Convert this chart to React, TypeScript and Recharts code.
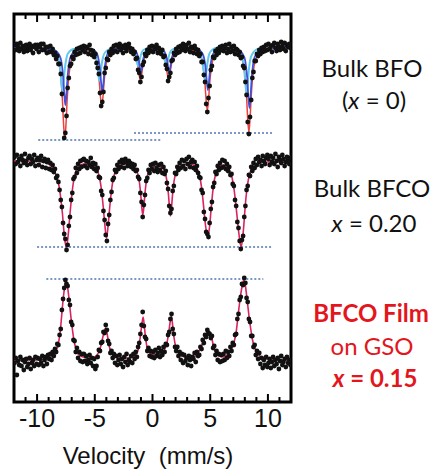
import React from 'react';
import { ComposedChart, XAxis, YAxis, Line, Scatter, ReferenceLine, ReferenceArea } from 'recharts';

// Mössbauer spectra, velocity in mm/s; counts are relative to each spectrum's baseline (a.u.)
const CH_START = -11.95;
const CH_STEP = 0.1;

// Bulk BFO (x = 0), 240 channels
const BFO_COUNTS = [
  2, -3, 3, 0, -4, 4, -2, 1, -5, -1, 2, -4, 0, 3, -3, 1, -6, 0, 2, -2,
  2, -5, 0, 3, -3, 3, -3, 0, -6, 0, -5, 1, -5, -2, -8, -6, -12, -9, -17, -17,
  -27, -47, -63, -91, -86, -69, -41, -31, -19, -17, -10, -12, -5, -8, -2, -7, -1, -6, 0, -3,
  1, -5, 0, -1, -7, 2, -3, -8, -4, -10, -7, -16, -21, -27, -46, -59, -55, -45, -26, -21,
  -12, -13, -5, -8, -2, -6, 1, -4, 2, -5, 0, 3, -3, 1, -6, -1, 2, -4, 0, 3,
  -1, -5, -2, -7, -5, -12, -11, -23, -26, -35, -30, -18, -15, -7, -9, -3, -6, 0, -4, 1,
  -5, 0, -2, 2, -6, -1, -3, -7, -3, -10, -9, -18, -22, -34, -30, -26, -14, -13, -6, -8,
  -2, -6, 0, -5, 1, -3, 3, -1, -4, 2, -2, 4, -5, 0, -1, -6, 1, -2, -7, -3,
  -9, -7, -15, -15, -28, -35, -57, -65, -51, -39, -23, -19, -10, -11, -4, -8, -2, -6, 0, -3,
  1, -4, -1, 2, -6, -2, 3, -5, 0, -4, 1, -7, -2, -3, -8, -5, -11, -10, -19, -21,
  -35, -48, -75, -87, -70, -53, -31, -25, -14, -14, -7, -9, -3, -7, -1, -5, 0, -4, 2, -3,
  3, -2, 1, -5, 2, 4, -1, -4, 3, 0, -3, 5, 1, -2, 4, -4, 2, 0, 3, -1,
];

// Bulk BFCO x = 0.20
const BFCO_COUNTS = [
  5, -2, 7, 0, 3, -4, 6, 2, -1, 8, 1, -3, 4, 6, -2, 3, 0, 7, -4, 2,
  4, -3, 2, 6, -5, 1, 3, -6, 0, 2, -7, -1, -8, -3, -10, -7, -16, -14, -20, -28,
  -38, -45, -61, -72, -77, -88, -83, -64, -55, -38, -31, -17, -15, -6, -11, -2, -7, 1, -5, 2,
  3, -4, 1, -6, 0, -3, 4, -5, -1, -7, -2, -9, -6, -15, -16, -29, -33, -49, -58, -73,
  -79, -62, -53, -38, -30, -18, -16, -8, -10, -3, -7, 0, -5, 2, -1, -6, 3, 0, -4, 1,
  -1, -5, -2, -7, -3, -9, -8, -15, -17, -31, -40, -55, -43, -33, -19, -16, -8, -11, -3, -7,
  -2, -9, -1, -6, -10, -3, -8, -2, -11, -5, -12, -9, -21, -27, -44, -51, -47, -29, -24, -11,
  -12, -5, -8, -1, -6, 2, -4, 1, -7, 3, -2, 5, -5, 0, 2, -6, 0, -8, -4, -11,
  -15, -16, -28, -31, -50, -57, -70, -72, -75, -61, -47, -40, -25, -21, -10, -12, -4, -8, -1, -6,
  2, -5, 1, -7, -2, -9, -5, -13, -12, -22, -24, -38, -44, -60, -66, -79, -87, -78, -74, -55,
  -44, -28, -24, -13, -14, -5, -9, -1, -6, 3, -3, 5, 0, 2, -4, 6, 1, -2, 4, 7,
  3, -3, 6, 0, 4, -2, 8, 1, -5, 5, 2, -1, 7, 3, -4, 0, 5, 2, -2, 4,
];

// BFCO film on GSO x = 0.15 (peaks upward)
const FILM_COUNTS = [
  -3, 2, -15, -1, -5, 3, -6, 0, -10, -2, 1, -7, -4, 2, -9, -3, 0, -6, 3, -4,
  2, -5, 1, -3, 4, -6, 0, 3, -4, 5, 1, 6, 0, 8, 4, 11, 8, 16, 15, 25,
  31, 50, 61, 72, 80, 76, 74, 60, 55, 38, 35, 20, 19, 8, 12, 2, 8, -1, 6, -2,
  6, -1, 4, -4, 0, 5, -3, 2, -6, 1, -9, -6, 3, 10, 9, 17, 18, 28, 27, 35,
  30, 19, 16, 7, 9, 2, 6, -3, 4, -5, 0, 5, -4, 1, -7, 3, -2, 6, -5, 0,
  -2, 4, -3, 6, 1, 8, 3, 13, 17, 26, 35, 48, 34, 23, 21, 9, 12, 4, 9, 3,
  8, 2, 10, 4, 7, 12, 3, 9, 5, 13, 8, 16, 15, 25, 28, 41, 46, 31, 26, 13,
  9, 13, 4, 8, 0, 6, -3, 5, -1, 2, -5, 4, 0, -6, 3, 1, 7, -2, 8, 4,
  5, 13, 11, 20, 17, 25, 23, 30, 27, 26, 22, 24, 12, 14, 5, 9, 0, 6, -2, 5,
  -1, 6, 0, 9, 2, 8, 4, 13, 9, 17, 15, 25, 26, 41, 46, 60, 63, 76, 75, 82,
  77, 62, 58, 41, 38, 24, 24, 13, 15, 5, 9, 1, 7, -4, 2, -8, 0, -5, 3, -7,
  -3, 1, -8, -2, 3, -6, 0, -4, 2, -9, -1, 4, -5, -2, 1, -7, 3, -3, 0, -5,
];

// fitted curves, [velocity, value]
const BFO_FIT: [number, number][] = [
  [-12, -1], [-10, -1], [-9.2, -2], [-8.6, -5], [-8.3, -10], [-8.05, -20], [-7.9, -36], [-7.8, -54], [-7.7, -78], [-7.6, -92],
  [-7.5, -78], [-7.4, -54], [-7.3, -36], [-7.15, -20], [-6.9, -10], [-6.6, -6], [-6.0, -4], [-5.4, -4], [-5.1, -7], [-4.85, -13],
  [-4.7, -24], [-4.6, -36], [-4.5, -51], [-4.4, -60], [-4.3, -51], [-4.2, -36], [-4.1, -24], [-3.95, -13], [-3.7, -7], [-3.4, -4],
  [-2.7, -2], [-2.05, -3], [-1.75, -4], [-1.5, -8], [-1.35, -13], [-1.25, -20], [-1.15, -28], [-1.05, -33], [-0.95, -28], [-0.85, -20],
  [-0.75, -13], [-0.6, -8], [-0.35, -4], [0.15, -3], [0.7, -4], [0.95, -8], [1.1, -13], [1.2, -20], [1.3, -28], [1.4, -33],
  [1.5, -28], [1.6, -20], [1.7, -13], [1.85, -8], [2.1, -4], [2.7, -2], [3.4, -3], [3.75, -4], [4.05, -7], [4.3, -14],
  [4.45, -25], [4.55, -37], [4.65, -54], [4.75, -63], [4.85, -54], [4.95, -37], [5.05, -25], [5.2, -14], [5.45, -7], [5.75, -4],
  [6.5, -3], [7.35, -5], [7.65, -9], [7.9, -19], [8.05, -33], [8.15, -50], [8.25, -72], [8.35, -85], [8.45, -72], [8.55, -50],
  [8.65, -33], [8.8, -19], [9.05, -9], [9.35, -5], [10.0, -2], [12, -1],
];

const BFO_SITE1: [number, number][] = [
  [-12, 0], [-10, -1], [-8.55, -3], [-8.0, -10], [-7.85, -18], [-7.75, -29], [-7.65, -46], [-7.55, -58], [-7.45, -46], [-7.35, -29],
  [-7.25, -18], [-7.1, -10], [-6.55, -3], [-5.35, -2], [-4.8, -7], [-4.65, -14], [-4.55, -22], [-4.45, -36], [-4.35, -45], [-4.25, -36],
  [-4.15, -22], [-4.05, -14], [-3.9, -7], [-3.35, -2], [-2.0, -1], [-1.45, -4], [-1.3, -8], [-1.2, -12], [-1.1, -20], [-1.0, -25],
  [-0.9, -20], [-0.8, -12], [-0.7, -8], [-0.55, -4], [0.0, -2], [1.0, -4], [1.15, -8], [1.25, -12], [1.35, -20], [1.45, -25],
  [1.55, -20], [1.65, -12], [1.75, -8], [1.9, -4], [2.45, -1], [3.8, -2], [4.35, -7], [4.5, -13], [4.6, -21], [4.7, -34],
  [4.8, -43], [4.9, -34], [5.0, -21], [5.1, -13], [5.25, -7], [5.8, -2], [7.4, -3], [7.95, -10], [8.1, -19], [8.2, -30],
  [8.3, -49], [8.4, -61], [8.5, -49], [8.6, -30], [8.7, -19], [8.85, -10], [9.4, -3], [10.5, -1], [12, 0],
];

const BFO_SITE2: [number, number][] = [
  [-12, 0], [-10, -1], [-8.8, -2], [-8.25, -7], [-8.1, -14], [-8.0, -22], [-7.9, -35], [-7.8, -44], [-7.7, -35], [-7.6, -22],
  [-7.5, -14], [-7.35, -7], [-6.8, -2], [-5.6, -2], [-5.05, -6], [-4.9, -11], [-4.8, -17], [-4.7, -27], [-4.6, -34], [-4.5, -27],
  [-4.4, -17], [-4.3, -11], [-4.15, -6], [-3.6, -2], [-2.25, -1], [-1.7, -3], [-1.55, -6], [-1.45, -10], [-1.35, -15], [-1.25, -19],
  [-1.15, -15], [-1.05, -10], [-0.95, -6], [-0.8, -3], [-0.25, -1], [0.2, -1], [0.75, -3], [0.9, -6], [1.0, -10], [1.1, -15],
  [1.2, -19], [1.3, -15], [1.4, -10], [1.5, -6], [1.65, -3], [2.2, -1], [3.55, -1], [4.1, -5], [4.25, -10], [4.35, -17],
  [4.45, -26], [4.55, -33], [4.65, -26], [4.75, -17], [4.85, -10], [5.0, -5], [5.55, -1], [7.15, -2], [7.7, -8], [7.85, -14],
  [7.95, -23], [8.05, -37], [8.15, -46], [8.25, -37], [8.35, -23], [8.45, -14], [8.6, -8], [9.15, -2], [10.5, -1], [12, 0],
];

const BFCO_FIT: [number, number][] = [
  [-12, 1], [-10.5, 1], [-9.5, 0], [-9.0, -2], [-8.7, -5], [-8.5, -9], [-8.3, -15], [-8.1, -24], [-7.95, -36], [-7.8, -52],
  [-7.7, -66], [-7.6, -78], [-7.47, -85], [-7.35, -78], [-7.25, -66], [-7.15, -52], [-7.0, -34], [-6.85, -20], [-6.65, -10], [-6.4, -5],
  [-6.0, -2], [-5.5, -2], [-5.0, -4], [-4.75, -9], [-4.55, -18], [-4.4, -30], [-4.25, -47], [-4.12, -64], [-3.98, -76], [-3.85, -64],
  [-3.72, -47], [-3.57, -30], [-3.42, -18], [-3.2, -9], [-2.9, -4], [-2.4, -2], [-1.8, -3], [-1.5, -6], [-1.3, -11], [-1.15, -19],
  [-1.03, -31], [-0.93, -45], [-0.84, -53], [-0.75, -45], [-0.65, -31], [-0.53, -19], [-0.38, -11], [-0.15, -6], [0.35, -4], [0.9, -6],
  [1.1, -11], [1.25, -19], [1.37, -31], [1.47, -45], [1.56, -54], [1.65, -45], [1.75, -31], [1.87, -19], [2.02, -11], [2.25, -6],
  [2.6, -3], [3.2, -2], [3.7, -4], [3.95, -9], [4.15, -18], [4.3, -30], [4.45, -47], [4.6, -64], [4.79, -75], [4.95, -64],
  [5.08, -47], [5.22, -30], [5.36, -18], [5.55, -9], [5.85, -4], [6.2, -3], [6.5, -5], [6.7, -9], [6.9, -16], [7.05, -26],
  [7.2, -40], [7.35, -57], [7.5, -73], [7.68, -85], [7.82, -75], [7.92, -62], [8.02, -46], [8.15, -30], [8.3, -18], [8.5, -9],
  [8.75, -4], [9.2, -1], [10, 0], [11, 0], [12, -1],
];

const FILM_FIT: [number, number][] = [
  [-12, 0], [-10, 0], [-9.2, 1], [-8.8, 3], [-8.55, 5], [-8.3, 11], [-8.1, 20], [-7.98, 30], [-7.88, 43], [-7.78, 56],
  [-7.68, 67], [-7.57, 76], [-7.47, 79], [-7.36, 73], [-7.25, 63], [-7.15, 52], [-7.04, 40], [-6.92, 29], [-6.81, 20], [-6.6, 10],
  [-6.38, 5], [-6.0, 3], [-5.5, 2], [-5.0, 3], [-4.7, 7], [-4.5, 13], [-4.3, 23], [-4.17, 29], [-4.07, 32], [-3.97, 29],
  [-3.87, 22], [-3.75, 14], [-3.6, 8], [-3.35, 4], [-2.9, 2], [-2.2, 2], [-1.7, 3], [-1.4, 6], [-1.2, 12], [-1.05, 24],
  [-0.93, 35], [-0.81, 43], [-0.7, 33], [-0.6, 22], [-0.48, 13], [-0.3, 8], [0.0, 5], [0.4, 5], [0.8, 7], [1.05, 11],
  [1.25, 17], [1.4, 27], [1.53, 38], [1.64, 44], [1.75, 34], [1.87, 22], [2.0, 14], [2.2, 8], [2.5, 4], [3.0, 3],
  [3.5, 3], [3.9, 6], [4.16, 12], [4.35, 17], [4.5, 22], [4.7, 27], [4.88, 29], [5.02, 26], [5.17, 20], [5.3, 13],
  [5.45, 8], [5.75, 4], [6.2, 3], [6.6, 7], [6.85, 11], [7.05, 17], [7.25, 28], [7.45, 48], [7.6, 62], [7.75, 73],
  [7.9, 80], [8.05, 74], [8.2, 60], [8.35, 45], [8.5, 32], [8.65, 21], [8.8, 14], [9.0, 8], [9.3, 4], [9.7, 2],
  [10.3, 0], [12, 0],
];

// vertical offsets of the stacked spectra
const OFFSET_BFO = 355;
const OFFSET_BFCO = 240;
const OFFSET_FILM = 42;

// dotted guide lines: [from v, to v, level]
const BFO_GUIDES = [[-9.9, 0.7, -93], [-1.6, 10.5, -86]];
const BFCO_GUIDES = [[-10, 10.4, -85]];
const FILM_GUIDES = [[-9.2, 9.6, 81]];

const TICKS = [-12, -11, -10, -9, -8, -7, -6, -5, -4, -3, -2, -1, 0, 1, 2, 3, 4, 5, 6, 7, 8, 9, 10, 11, 12];

const RED_TOP = '#e8433f';
const BLUE = '#4150d6';
const CYAN = '#62c9ef';
const PINK = '#d9245f';
const GUIDE = '#4f77b3';
const AXIS_FONT = '"Liberation Sans", Arial, sans-serif';
const LABEL_FONT = 'Lato, "Open Sans", sans-serif';

const toChannels = (counts: number[], offset: number) =>
  counts.map((c, i) => ({ v: Math.round((CH_START + i * CH_STEP) * 100) / 100, y: offset + c }));

const toCurve = (pts: [number, number][], offset: number) => pts.map(([v, a]) => ({ v, y: offset + a }));

const Dot = (props: any) => <circle cx={props.cx} cy={props.cy} r={2.4} fill="#111" />;

const BottomTick = (props: any) => {
  const { x, y, payload } = props;
  const major = payload.value % 5 === 0;
  const show = major && Math.abs(payload.value) <= 10;
  return (
    <g>
      <line x1={x} x2={x} y1={y} y2={y - (major ? 8 : 5)} stroke="#000" strokeWidth={2} />
      {show && (
        <text x={x} y={y + 25} textAnchor="middle" fontSize={25} fontFamily={AXIS_FONT} fill="#111">
          {payload.value}
        </text>
      )}
    </g>
  );
};

const TopTick = (props: any) => {
  const { x, y, payload } = props;
  const major = payload.value % 5 === 0;
  return <line x1={x} x2={x} y1={y} y2={y + (major ? 8 : 5)} stroke="#000" strokeWidth={2} />;
};

export default function App() {
  const bfoDots = toChannels(BFO_COUNTS, OFFSET_BFO);
  const bfcoDots = toChannels(BFCO_COUNTS, OFFSET_BFCO);
  const filmDots = toChannels(FILM_COUNTS, OFFSET_FILM);

  const guides = [
    ...BFO_GUIDES.map((g) => [g[0], g[1], OFFSET_BFO + g[2]]),
    ...BFCO_GUIDES.map((g) => [g[0], g[1], OFFSET_BFCO + g[2]]),
    ...FILM_GUIDES.map((g) => [g[0], g[1], OFFSET_FILM + g[2]]),
  ];

  return (
    <div style={{ position: 'absolute', left: 0, top: 0, width: 432, height: 472, background: '#fff' }}>
      <ComposedChart width={432} height={472} margin={{ top: 0, right: 141, bottom: 40, left: 14 }}>
        <XAxis
          type="number"
          dataKey="v"
          domain={[-12, 12]}
          ticks={TICKS}
          allowDataOverflow
          height={30}
          tickSize={0}
          tickMargin={0}
          axisLine={false}
          tickLine={false}
          tick={<BottomTick />}
          interval={0}
        />
        <XAxis
          xAxisId="top"
          orientation="top"
          type="number"
          dataKey="v"
          domain={[-12, 12]}
          ticks={TICKS}
          allowDataOverflow
          height={14}
          tickSize={0}
          tickMargin={0}
          axisLine={false}
          tickLine={false}
          tick={<TopTick />}
          interval={0}
        />
        <YAxis type="number" dataKey="y" domain={[0, 388]} allowDataOverflow hide />

        {guides.map((g, i) => (
          <ReferenceLine
            key={`g${i}`}
            segment={[{ x: g[0], y: g[2] }, { x: g[1], y: g[2] }]}
            stroke={GUIDE}
            strokeWidth={1.5}
            strokeDasharray="2 2"
          />
        ))}

        <Scatter data={bfoDots} dataKey="y" shape={<Dot />} isAnimationActive={false} />
        <Scatter data={bfcoDots} dataKey="y" shape={<Dot />} isAnimationActive={false} />
        <Scatter data={filmDots} dataKey="y" shape={<Dot />} isAnimationActive={false} />

        <Line data={toCurve(BFO_FIT, OFFSET_BFO)} dataKey="y" type="monotone" stroke={RED_TOP} strokeWidth={1.5} dot={false} activeDot={false} isAnimationActive={false} />
        <Line data={toCurve(BFO_SITE2, OFFSET_BFO)} dataKey="y" type="monotone" stroke={CYAN} strokeWidth={2} dot={false} activeDot={false} isAnimationActive={false} />
        <Line data={toCurve(BFO_SITE1, OFFSET_BFO)} dataKey="y" type="monotone" stroke={BLUE} strokeWidth={1.8} dot={false} activeDot={false} isAnimationActive={false} />
        <Line data={toCurve(BFCO_FIT, OFFSET_BFCO)} dataKey="y" type="monotone" stroke={PINK} strokeWidth={1.6} dot={false} activeDot={false} isAnimationActive={false} />
        <Line data={toCurve(FILM_FIT, OFFSET_FILM)} dataKey="y" type="monotone" stroke={PINK} strokeWidth={1.6} dot={false} activeDot={false} isAnimationActive={false} />

        <ReferenceArea x1={-12} x2={12} y1={0} y2={388} fill="none" stroke="#000" strokeWidth={3} />
      </ComposedChart>

      <svg width={432} height={472} style={{ position: 'absolute', left: 0, top: 0, pointerEvents: 'none' }}>
        <g fontFamily={LABEL_FONT} fontSize={24} textAnchor="middle" fill="#111">
          <text x={372} y={77}>Bulk BFO</text>
          <text x={374} y={109}>(<tspan fontStyle="italic">x</tspan> = 0)</text>
          <text x={372} y={197}>Bulk BFCO</text>
          <text x={374} y={232}><tspan fontStyle="italic">x</tspan> = 0.20</text>
        </g>
        <g fontFamily={LABEL_FONT} fontSize={24} textAnchor="middle" fill="#e3161d">
          <text x={371} y={322} fontWeight="bold">BFCO Film</text>
          <text x={372} y={355}>on GSO</text>
          <text x={375} y={387} fontWeight="bold"><tspan fontStyle="italic">x</tspan> = 0.15</text>
        </g>
        <text x={148} y={464} textAnchor="middle" fontFamily={AXIS_FONT} fontSize={24} fill="#111" style={{ whiteSpace: 'pre' }}>
          {'Velocity  (mm/s)'}
        </text>
      </svg>
    </div>
  );
}
